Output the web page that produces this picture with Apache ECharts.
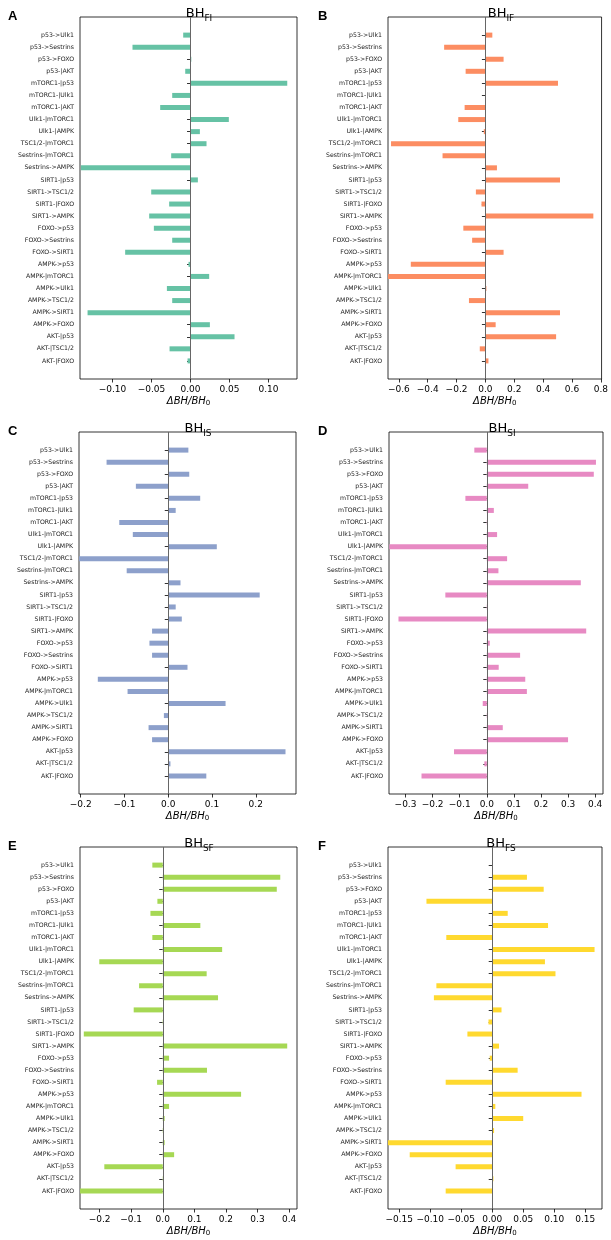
<!DOCTYPE html>
<html>
<head>
<meta charset="utf-8">
<script src="https://cdn.jsdelivr.net/npm/echarts@6/dist/echarts.min.js"></script>
<style>
  html, body { margin: 0; padding: 0; background: #fff; }
  #main { width: 611px; height: 1240px; }
</style>
</head>
<body>
<div id="main"></div>
<script>
// edge labels, top to bottom
var categories = [
  'p53->Ulk1', 'p53->Sestrins', 'p53->FOXO', 'p53-|AKT', 'mTORC1-|p53',
  'mTORC1-|Ulk1', 'mTORC1-|AKT', 'Ulk1-|mTORC1', 'Ulk1-|AMPK', 'TSC1/2-|mTORC1',
  'Sestrins-|mTORC1', 'Sestrins->AMPK', 'SIRT1-|p53', 'SIRT1->TSC1/2', 'SIRT1-|FOXO',
  'SIRT1->AMPK', 'FOXO->p53', 'FOXO->Sestrins', 'FOXO->SIRT1', 'AMPK->p53',
  'AMPK-|mTORC1', 'AMPK->Ulk1', 'AMPK->TSC1/2', 'AMPK->SIRT1', 'AMPK->FOXO',
  'AKT-|p53', 'AKT-|TSC1/2', 'AKT-|FOXO'
];

var valsFI = [-0.0094, -0.0744, 0.001, -0.0068, 0.124, -0.0235, -0.0389, 0.0491, 0.012, 0.0205,
  -0.0248, -0.1406, 0.0094, -0.0504, -0.0274, -0.053, -0.047, -0.0235, -0.0838, -0.0026,
  0.0239, -0.0303, -0.0235, -0.132, 0.0248, 0.0564, -0.0269, -0.0038];
var valsIF = [0.048, -0.286, 0.126, -0.137, 0.503, 0.0, -0.144, -0.188, -0.011, -0.654,
  -0.297, 0.08, 0.517, -0.066, -0.027, 0.748, -0.153, -0.092, 0.126, -0.517,
  -0.675, 0.007, -0.114, 0.517, 0.071, 0.49, -0.039, 0.021];
var valsIS = [0.046, -0.141, 0.048, -0.074, 0.073, 0.017, -0.112, -0.081, 0.111, -0.204,
  -0.095, 0.028, 0.209, 0.017, 0.031, -0.037, -0.043, -0.037, 0.044, -0.161,
  -0.093, 0.131, -0.01, -0.045, -0.037, 0.268, 0.005, 0.087];
var valsSI = [-0.046, 0.403, 0.395, 0.153, -0.079, 0.026, 0.002, 0.038, -0.36, 0.075,
  0.043, 0.347, -0.153, 0.002, -0.326, 0.367, 0.011, 0.123, 0.044, 0.142,
  0.148, -0.015, 0.001, 0.059, 0.3, -0.121, -0.009, -0.241];
var valsSF = [-0.033, 0.372, 0.361, -0.017, -0.039, 0.119, -0.033, 0.188, -0.201, 0.139,
  -0.075, 0.175, -0.092, 0.003, -0.25, 0.394, 0.02, 0.14, -0.018, 0.248,
  0.02, 0.006, 0.001, 0.006, 0.036, -0.185, 0.001, -0.262];
var valsFS = [0.001, 0.056, 0.083, -0.106, 0.025, 0.09, -0.074, 0.165, 0.085, 0.102,
  -0.09, -0.094, 0.015, -0.006, -0.04, 0.011, -0.004, 0.041, -0.075, 0.144,
  0.005, 0.05, 0.003, -0.168, -0.133, -0.059, 0.002, -0.075];

var ticksFI = [-0.1, -0.05, 0, 0.05, 0.1];
var ticksIF = [-0.6, -0.4, -0.2, 0, 0.2, 0.4, 0.6, 0.8];
var ticksIS = [-0.2, -0.1, 0, 0.1, 0.2];
var ticksSI = [-0.3, -0.2, -0.1, 0, 0.1, 0.2, 0.3, 0.4];
var ticksSF = [-0.2, -0.1, 0, 0.1, 0.2, 0.3, 0.4];
var ticksFS = [-0.15, -0.1, -0.05, 0, 0.05, 0.1, 0.15];

var panels = [
  { letter: 'A', sub: 'FI', vals: valsFI, ticks: ticksFI, dec: 2, min: -0.1417, max: 0.1365, color: '#66c2a5',
    left: 80, top: 17, width: 217, titleX: 194, nameSub: '0' },
  { letter: 'B', sub: 'IF', vals: valsIF, ticks: ticksIF, dec: 1, min: -0.675, max: 0.805, color: '#fc8d62',
    left: 388, top: 17, width: 214, titleX: 496, nameSub: '0' },
  { letter: 'C', sub: 'IS', vals: valsIS, ticks: ticksIS, dec: 1, min: -0.204, max: 0.292, color: '#8da0cb',
    left: 79, top: 432, width: 217, titleX: 193, nameSub: '0' },
  { letter: 'D', sub: 'SI', vals: valsSI, ticks: ticksSI, dec: 1, min: -0.361, max: 0.429, color: '#e78ac3',
    left: 389, top: 432, width: 214, titleX: 497, nameSub: '0' },
  { letter: 'E', sub: 'SF', vals: valsSF, ticks: ticksSF, dec: 1, min: -0.262, max: 0.425, color: '#a6d854',
    left: 80, top: 847, width: 217, titleX: 194, nameSub: '0' },
  { letter: 'F', sub: 'FS', vals: valsFS, ticks: ticksFS, dec: 2, min: -0.168, max: 0.177, color: '#ffd92f',
    left: 388, top: 847, width: 214, titleX: 496, nameSub: '0' }
];

// one empty band above and below the labels, like the matplotlib margins
var axisCats = [' '].concat(categories, ['  ']);
var font = 'DejaVu Sans';

function fmt(dec) {
  return function (v) {
    return (v < 0 ? '\u2212' : '') + Math.abs(v).toFixed(dec);
  };
}

var option = {
  animation: false,
  backgroundColor: '#fff',
  title: [],
  grid: [],
  xAxis: [],
  yAxis: [],
  series: []
};

panels.forEach(function (p, i) {
  option.title.push({
    text: p.letter,
    left: p.left < 200 ? 3 : 313,
    top: p.top - 12,
    textStyle: { fontFamily: 'Liberation Sans', fontWeight: 'bold', fontSize: 13, color: '#000' }
  });
  option.title.push({
    text: '{m|BH}{s|' + p.sub + '}',
    left: p.titleX,
    top: p.top - 15,
    textAlign: 'center',
    textStyle: {
      fontWeight: 'normal',
      rich: {
        m: { fontFamily: font, fontSize: 13, fontWeight: 'normal', color: '#000', verticalAlign: 'bottom' },
        s: { fontFamily: font, fontSize: 9, fontWeight: 'normal', color: '#000', verticalAlign: 'bottom', padding: [0, 0, -3, 0] }
      }
    }
  });
  option.grid.push({
    left: p.left, top: p.top, width: p.width, height: 362,
    show: true, borderColor: '#000', borderWidth: 0.8, containLabel: false
  });
  option.xAxis.push({
    type: 'value', gridIndex: i, min: p.min, max: p.max,
    name: '{i|\u0394BH/BH}{s|' + p.nameSub + '}',
    nameLocation: 'middle', nameGap: 17,
    nameTextStyle: {
      rich: {
        i: { fontFamily: font, fontSize: 10, fontStyle: 'italic', color: '#000' },
        s: { fontFamily: font, fontSize: 7, color: '#000', padding: [4, 0, 0, 0] }
      }
    },
    axisLine: { show: false },
    splitLine: { show: false },
    axisTick: { show: true, length: 3.5, customValues: p.ticks, lineStyle: { color: '#000', width: 0.8 } },
    axisLabel: { customValues: p.ticks, formatter: fmt(p.dec), fontFamily: font, fontSize: 9, color: '#000', margin: 6 }
  });
  option.yAxis.push({
    type: 'category', gridIndex: i, data: axisCats, inverse: true,
    axisLine: { show: false },
    splitLine: { show: false },
    axisTick: {
      show: true, length: 3.5, alignWithLabel: true,
      interval: function (idx, v) { return v.trim() !== ''; },
      lineStyle: { color: '#000', width: 0.8 }
    },
    axisLabel: { interval: 0, fontFamily: font, fontSize: 6.2, color: '#222', margin: 6 }
  });
  option.series.push({
    type: 'bar', xAxisIndex: i, yAxisIndex: i,
    data: [null].concat(p.vals, [null]),
    barWidth: 5,
    itemStyle: { color: p.color },
    markLine: {
      silent: true, symbol: ['none', 'none'], animation: false,
      label: { show: false },
      lineStyle: { color: '#666', width: 1, type: 'solid' },
      data: [{ xAxis: 0 }]
    }
  });
});

var myChart = echarts.init(document.getElementById('main'));
myChart.setOption(option);
</script>
</body>
</html>
